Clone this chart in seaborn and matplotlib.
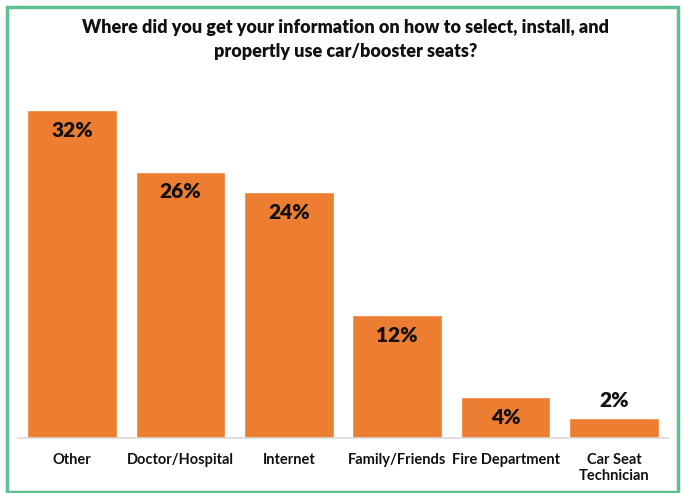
import matplotlib
matplotlib.use("Agg")
import matplotlib.pyplot as plt
import seaborn as sns
import pandas as pd
from matplotlib.patches import Rectangle

sources = ["Other", "Doctor/Hospital", "Internet", "Family/Friends",
           "Fire Department", "Car Seat\nTechnician"]
percent = [32, 26, 24, 12, 4, 2]
labels = ["32%", "26%", "24%", "12%", "4%", "2%"]

sns.set_theme(style="white")
plt.rcParams["font.family"] = ["Lato", "DejaVu Sans"]

df = pd.DataFrame({"source": sources, "percent": percent})

fig = plt.figure(figsize=(6.81, 4.93), dpi=100)
ax = fig.add_axes([18 / 681, 55 / 493, 650 / 681, 358.75 / 493])

sns.barplot(data=df, x="source", y="percent", color="#ED7D31",
            saturation=1, width=0.83, ax=ax)

ax.set_xlim(-0.5, 5.5)
ax.set_ylim(0, 35)
ax.set_xlabel("")
ax.set_ylabel("")
ax.set_yticks([])
for s in ["top", "right", "left"]:
    ax.spines[s].set_visible(False)
ax.spines["bottom"].set_color("#D9D9D9")
ax.spines["bottom"].set_linewidth(1.2)
ax.tick_params(axis="x", length=0, pad=11)
for t in ax.get_xticklabels():
    t.set_fontsize(10.5)
    t.set_fontweight("bold")
    t.set_color("#111111")
    t.set_linespacing(1.2)

for i, (v, lab) in enumerate(zip(percent, labels)):
    offset = -14.5 if v >= 4 else 12
    ax.annotate(lab, (i, v), xytext=(0, offset), textcoords="offset points",
                ha="center", va="center", fontsize=15, fontweight="heavy",
                color="#111111")

fig.text(0.507, 1 - 39.5 / 493,
         "Where did you get your information on how to select, install, and\n"
         "propertly use car/booster seats?",
         ha="center", va="center", fontsize=13, fontweight="heavy",
         color="#111111", linespacing=1.5)

# green frame around the chart
fig.patches.append(Rectangle((6.5 / 681, 1.5 / 493), 671 / 681, 485 / 493,
                             transform=fig.transFigure, fill=False,
                             edgecolor="#5DC08F", linewidth=2.5))

fig.savefig("out.png", dpi=100)
